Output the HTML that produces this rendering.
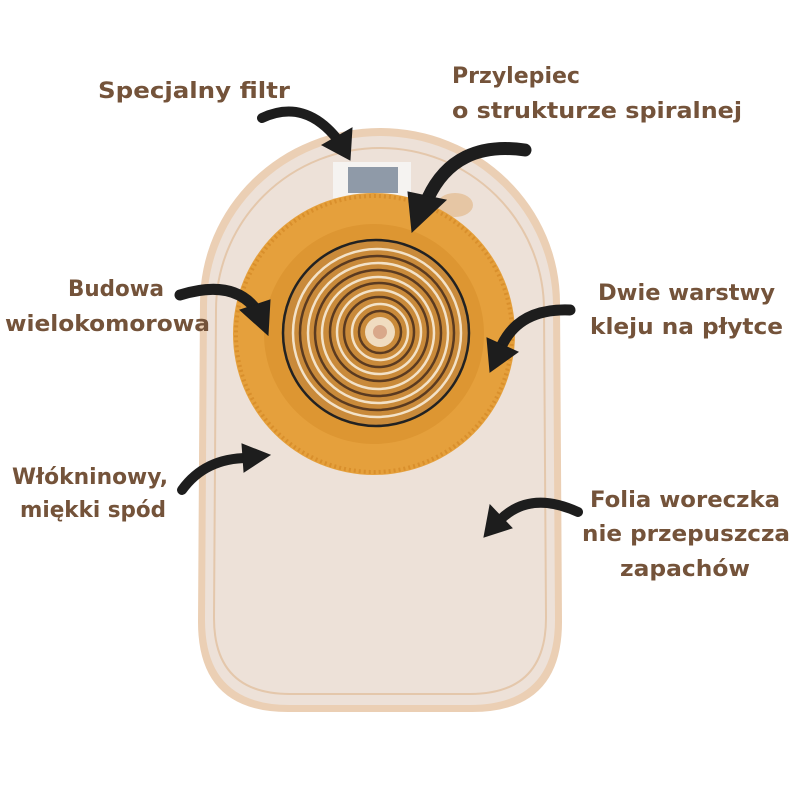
<!DOCTYPE html>
<html><head><meta charset="utf-8"><style>
html,body{margin:0;padding:0;background:#fff;}
svg{display:block}
text{font-family:"DejaVu Sans","Liberation Sans",sans-serif;font-weight:bold;fill:#74533a;font-size:22px}
</style></head><body>
<svg width="800" height="800" viewBox="0 0 800 800" xmlns="http://www.w3.org/2000/svg">
<!-- bag -->
<path d="M200,303 A180,175 0 0 1 560,303 L562,622 Q562,712 472,712 L288,712 Q198,712 198,622 Z" fill="#ebcfb4"/>
<path d="M207,306 A173,170 0 0 1 553,306 L555,620 Q555,705 470,705 L290,705 Q205,705 205,620 Z" fill="#ede1d8"/>
<path d="M216,310 A164,162 0 0 1 544,310 L546,618 Q546,694 470,694 L290,694 Q214,694 214,618 Z" fill="none" stroke="#e4c7ab" stroke-width="2"/>
<!-- filter -->
<rect x="333" y="162" width="78" height="36" fill="#f5f3f1"/>
<rect x="348" y="167" width="50" height="26" fill="#8f9aa8"/>
<!-- tab -->
<ellipse cx="455" cy="205" rx="18" ry="12" fill="#e6c6a4"/>
<!-- flange -->
<circle cx="374" cy="334" r="141" fill="#e5a03c"/>
<circle cx="374" cy="334" r="138" fill="none" stroke="#d98f2c" stroke-width="4" stroke-dasharray="2 3"/>
<circle cx="374" cy="334" r="110" fill="#dd9632"/>
<circle cx="376" cy="333" r="93" fill="#c98a3a" stroke="#222" stroke-width="2.5"/>
<g fill="none" stroke-width="2.5">
<circle cx="377" cy="333" r="84" stroke="#f3e2c8"/>
<circle cx="377" cy="333" r="77" stroke="#5a3a20"/>
<circle cx="378" cy="333" r="70" stroke="#f3e2c8"/>
<circle cx="378" cy="333" r="63" stroke="#5a3a20"/>
<circle cx="378" cy="333" r="56" stroke="#f3e2c8"/>
<circle cx="379" cy="332" r="49" stroke="#5a3a20"/>
<circle cx="379" cy="332" r="42" stroke="#f3e2c8"/>
<circle cx="379" cy="332" r="35" stroke="#5a3a20"/>
<circle cx="380" cy="332" r="28" stroke="#f3e2c8"/>
<circle cx="380" cy="332" r="21" stroke="#5a3a20"/>
</g>
<circle cx="380" cy="332" r="15" fill="#f0dcc0"/>
<circle cx="380" cy="332" r="7" fill="#d9a88a"/>
<!-- arrows -->
<g fill="#1d1d1d" stroke="#1d1d1d" stroke-linecap="round">
<path d="M262,118 Q305,98 338,140" fill="none" stroke-width="10"/>
<polygon points="322,145 352,128 350,160" stroke-width="1"/>
<path d="M525,150 Q455,140 428,198" fill="none" stroke-width="13"/>
<polygon points="408,192 446,200 412,232" stroke-width="1"/>
<path d="M180,295 Q235,278 258,312" fill="none" stroke-width="11"/>
<polygon points="240,310 270,300 268,335" stroke-width="1"/>
<path d="M570,310 Q520,308 502,345" fill="none" stroke-width="11"/>
<polygon points="487,338 518,352 490,372" stroke-width="1"/>
<path d="M182,490 Q205,458 248,458" fill="none" stroke-width="10"/>
<polygon points="242,444 270,455 244,472" stroke-width="1"/>
<path d="M578,512 Q530,490 500,520" fill="none" stroke-width="10"/>
<polygon points="490,505 512,528 484,537" stroke-width="1"/>
</g>
<!-- labels -->
<text x="98" y="98" textLength="192" lengthAdjust="spacingAndGlyphs">Specjalny filtr</text>
<text x="452" y="83" textLength="128" lengthAdjust="spacingAndGlyphs">Przylepiec</text>
<text x="452" y="118" textLength="290" lengthAdjust="spacingAndGlyphs">o strukturze spiralnej</text>
<text x="68" y="296" textLength="96" lengthAdjust="spacingAndGlyphs">Budowa</text>
<text x="5" y="331" textLength="205" lengthAdjust="spacingAndGlyphs">wielokomorowa</text>
<text x="598" y="300" textLength="177" lengthAdjust="spacingAndGlyphs">Dwie warstwy</text>
<text x="590" y="334" textLength="193" lengthAdjust="spacingAndGlyphs">kleju na płytce</text>
<text x="12" y="484" textLength="156" lengthAdjust="spacingAndGlyphs">Włókninowy,</text>
<text x="20" y="517" textLength="146" lengthAdjust="spacingAndGlyphs">miękki spód</text>
<text x="590" y="507" textLength="190" lengthAdjust="spacingAndGlyphs">Folia woreczka</text>
<text x="582" y="541" textLength="208" lengthAdjust="spacingAndGlyphs">nie przepuszcza</text>
<text x="620" y="576" textLength="130" lengthAdjust="spacingAndGlyphs">zapachów</text>
</svg>
</body></html>
